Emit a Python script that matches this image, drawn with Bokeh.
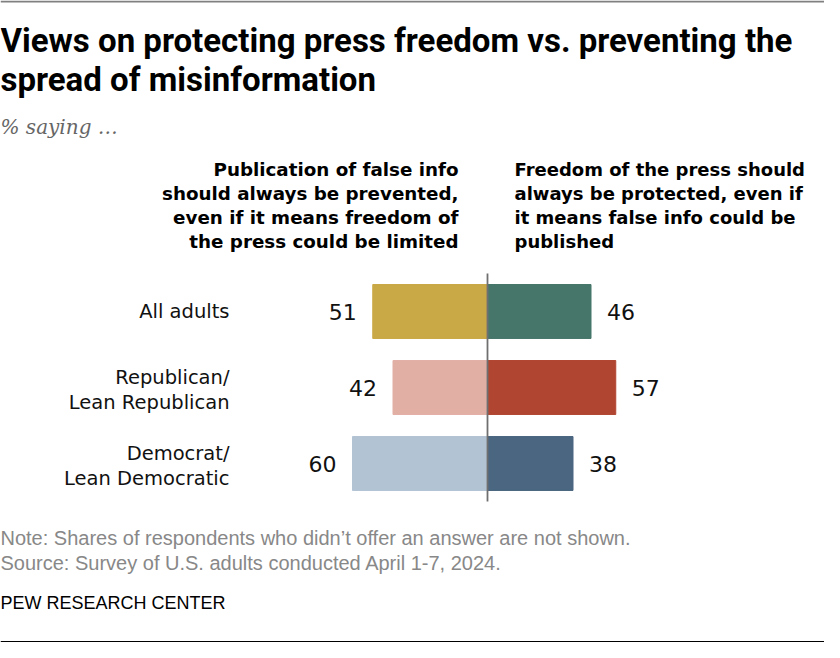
from bokeh.plotting import figure
from bokeh.models import ColumnDataSource, Range1d, Span
from bokeh.core.properties import value
from bokeh.embed import file_html
from bokeh.resources import INLINE

# === Data === #
groups = ["All adults", "Republican/\nLean Republican", "Democrat/\nLean Democratic"]
prevent = [51, 42, 60]      # publication of false info should be prevented
protect = [46, 57, 38]      # freedom of the press should be protected
prevent_colors = ["#C9A846", "#E2AFA5", "#B2C3D3"]
protect_colors = ["#46766A", "#B04632", "#4A6680"]

title_lines = ["Views on protecting press freedom vs. preventing the",
               "spread of misinformation"]
subtitle = "% saying \u2026"
left_header = ["Publication of false info", "should always be prevented,",
               "even if it means freedom of", "the press could be limited"]
right_header = ["Freedom of the press should", "always be protected, even if",
                "it means false info could be", "published"]
note = "Note: Shares of respondents who didn\u2019t offer an answer are not shown."
source_txt = "Source: Survey of U.S. adults conducted April 1-7, 2024."
brand = "PEW RESEARCH CENTER"

# === Layout (canvas pixels) === #
W, H = 824, 642
CX = 487            # pixel of zero
PX_PER_UNIT = 2.25
ROW0, ROW_H = 311, 76


def ux(px):
    return (px - CX) / PX_PER_UNIT


def uy(py):
    return (py - ROW0) / ROW_H


p = figure(width=W, height=H, output_backend="svg", toolbar_location=None,
           x_range=Range1d(ux(0), ux(W)), y_range=Range1d(uy(H), uy(0)),
           x_axis_location=None, y_axis_location=None, min_border=0, tools="")
p.grid.visible = False
p.outline_line_color = None
p.background_fill_color = "white"
p.border_fill_color = "white"

rows = list(range(len(groups)))
src = ColumnDataSource(dict(
    row=rows,
    neg=[-v for v in prevent],
    pos=protect,
    lcol=prevent_colors,
    rcol=protect_colors,
    ltxt=[str(v) for v in prevent],
    rtxt=[str(v) for v in protect],
    lx=[-v - 16 / PX_PER_UNIT for v in prevent],
    rx=[v + 16 / PX_PER_UNIT for v in protect],
))

# Bars
p.hbar(y="row", left="neg", right=0, height=0.71, fill_color="lcol", line_color="lcol", source=src)
p.hbar(y="row", left=0, right="pos", height=0.71, fill_color="rcol", line_color="rcol", source=src)

# Zero line
p.segment(x0=[0], y0=[-0.5], x1=[0], y1=[2.5], line_color="#6f6f6f", line_width=1.8)

# Value labels
p.text(x="lx", y="row", text="ltxt", source=src, text_align="right", text_baseline="middle",
       text_font=value("DejaVu Sans"), text_font_size="22px", text_color="#111111")
p.text(x="rx", y="row", text="rtxt", source=src, text_align="left", text_baseline="middle",
       text_font=value("DejaVu Sans"), text_font_size="22px", text_color="#111111")

# Category labels
cat_x, cat_y, cat_t = [], [], []
for r, g in zip(rows, groups):
    parts = g.split("\n")
    offs = [0] if len(parts) == 1 else [-10, 15]
    for part, off in zip(parts, offs):
        cat_x.append(ux(229))
        cat_y.append(r + off / ROW_H)
        cat_t.append(part)
p.text(x=cat_x, y=cat_y, text=cat_t, text_align="right", text_baseline="middle",
       text_font=value("DejaVu Sans"), text_font_size="19.5px", text_color="#111111")


def add_lines(lines, x_px, y0_px, step, align, font, size, color, style="normal"):
    p.text(x=[ux(x_px)] * len(lines), y=[uy(y0_px + i * step) for i in range(len(lines))],
           text=lines, text_align=align, text_baseline="middle", text_font=value(font),
           text_font_size=size, text_font_style=style, text_color=color)


# Column headers
add_lines(left_header, 458, 169, 24, "right", "DejaVu Sans", "18.3px", "#000000", "bold")
add_lines(right_header, 514, 169, 24, "left", "DejaVu Sans", "18px", "#000000", "bold")

# Title, subtitle, notes
add_lines(title_lines, 0, 40, 39, "left", "Roboto", "33px", "#000000", "bold")
add_lines([subtitle], 0, 126, 0, "left", "DejaVu Serif", "20px", "#666666", "italic")
add_lines([note, source_txt], 0, 537, 25, "left", "Liberation Sans", "20px", "#888888")
add_lines([brand], 0, 602, 0, "left", "Liberation Sans", "18px", "#000000")

# Rules
p.add_layout(Span(location=uy(1), dimension="width", line_color="#808080", line_width=2.2))
p.add_layout(Span(location=uy(641), dimension="width", line_color="#000000", line_width=1.2))

open("out.html", "w").write(file_html(p, INLINE))
